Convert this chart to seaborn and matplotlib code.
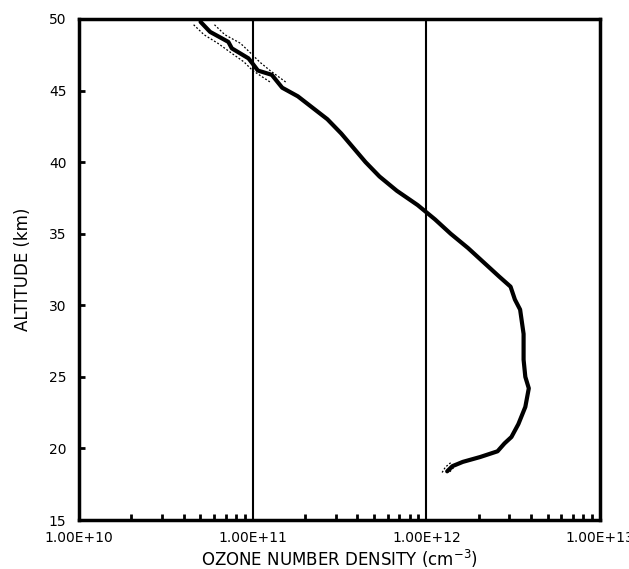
import numpy as np
import pandas as pd
import matplotlib
matplotlib.use("Agg")
import matplotlib.pyplot as plt
import seaborn as sns
from matplotlib.ticker import FixedLocator, NullFormatter

# ---- data ----
altitude_km = [49.8, 49.1, 48.4, 47.95, 47.25, 46.8, 46.4, 46.1, 45.2, 44.6,
               43.0, 42.0, 41.0, 40.0, 39.0, 38.0, 37.0, 36.0, 35.0, 34.0,
               33.0, 32.0, 31.3, 30.4, 29.7, 28.0, 26.2, 25.0, 24.2, 22.9,
               21.7, 20.8, 20.35, 19.8, 19.4, 19.06, 18.76, 18.4]
log_density = [10.70, 10.755, 10.86, 10.88, 10.976, 11.005, 11.03, 11.11, 11.17, 11.26,
               11.43, 11.51, 11.58, 11.65, 11.73, 11.83, 11.95, 12.05, 12.14, 12.24,
               12.33, 12.42, 12.485, 12.51, 12.54, 12.56, 12.56, 12.57, 12.59, 12.57,
               12.53, 12.49, 12.45, 12.41, 12.31, 12.21, 12.15, 12.12]

# error envelopes (dotted) near the top and bottom of the profile
env_top_alt = [49.6, 48.9, 48.3, 47.6, 47.0, 46.4, 45.6]
env_top_low = [10.66, 10.72, 10.80, 10.88, 10.95, 11.00, 11.10]
env_top_high = [10.78, 10.84, 10.93, 10.99, 11.04, 11.10, 11.19]
env_bot_alt = [19.0, 18.7, 18.3]
env_bot_low = [12.14, 12.11, 12.09]
env_bot_high = [12.19, 12.16, 12.13]

x_tick_values = [1e10, 1e11, 1e12, 1e13]
x_tick_labels = ["1.00E+10", "1.00E+11", "1.00E+12", "1.00E+13"]
y_ticks = [15, 20, 25, 30, 35, 40, 45, 50]

df = pd.DataFrame({"alt": altitude_km, "dens": np.power(10.0, log_density)})
env_top = pd.DataFrame({"alt": env_top_alt,
                        "low": np.power(10.0, env_top_low),
                        "high": np.power(10.0, env_top_high)})
env_bot = pd.DataFrame({"alt": env_bot_alt,
                        "low": np.power(10.0, env_bot_low),
                        "high": np.power(10.0, env_bot_high)})

sns.set_theme(style="white")
plt.rcParams["font.family"] = ["DejaVu Sans"]

fig = plt.figure(figsize=(6.29, 5.69), dpi=100)
ax = fig.add_axes([79/629, 1-520/569, (600-79)/629, (520-19)/569])
ax.set_xscale("log")

for env in (env_top, env_bot):
    for col in ["low", "high"]:
        sns.lineplot(data=env, x=col, y="alt", sort=False, estimator=None,
                     ax=ax, color="black", lw=0.9, linestyle=(0, (1.5, 1.5)))
sns.lineplot(data=df, x="dens", y="alt", sort=False, estimator=None,
             ax=ax, color="black", lw=3.0)

for v in x_tick_values[1:3]:
    ax.axvline(v, color="black", lw=1.5, zorder=1)

ax.set_xlim(1e10, 1e13)
ax.set_ylim(15, 50)

ax.xaxis.set_major_locator(FixedLocator(x_tick_values))
ax.set_xticklabels(x_tick_labels)
minor = [m * 10.0**e for e in (10, 11, 12) for m in range(2, 10)]
ax.xaxis.set_minor_locator(FixedLocator(minor))
ax.xaxis.set_minor_formatter(NullFormatter())
ax.set_yticks(y_ticks)
ax.set_yticklabels([str(t) for t in y_ticks])

ax.tick_params(axis="x", which="major", direction="in", length=0, pad=8,
               labelsize=10, colors="black")
ax.tick_params(axis="x", which="minor", direction="in", length=4, width=2,
               bottom=True, top=False, colors="black")
ax.tick_params(axis="y", which="major", direction="in", length=4, width=2,
               pad=9, labelsize=10, colors="black", left=True)

for s in ax.spines.values():
    s.set_color("black")
    s.set_linewidth(2.5)

ax.set_xlabel("OZONE NUMBER DENSITY (cm$^{-3}$)", fontsize=12, labelpad=2,
              color="black")
ax.set_ylabel("ALTITUDE (km)", fontsize=12, labelpad=12, color="black")
ax.grid(False)

fig.savefig("out.png", dpi=100)
